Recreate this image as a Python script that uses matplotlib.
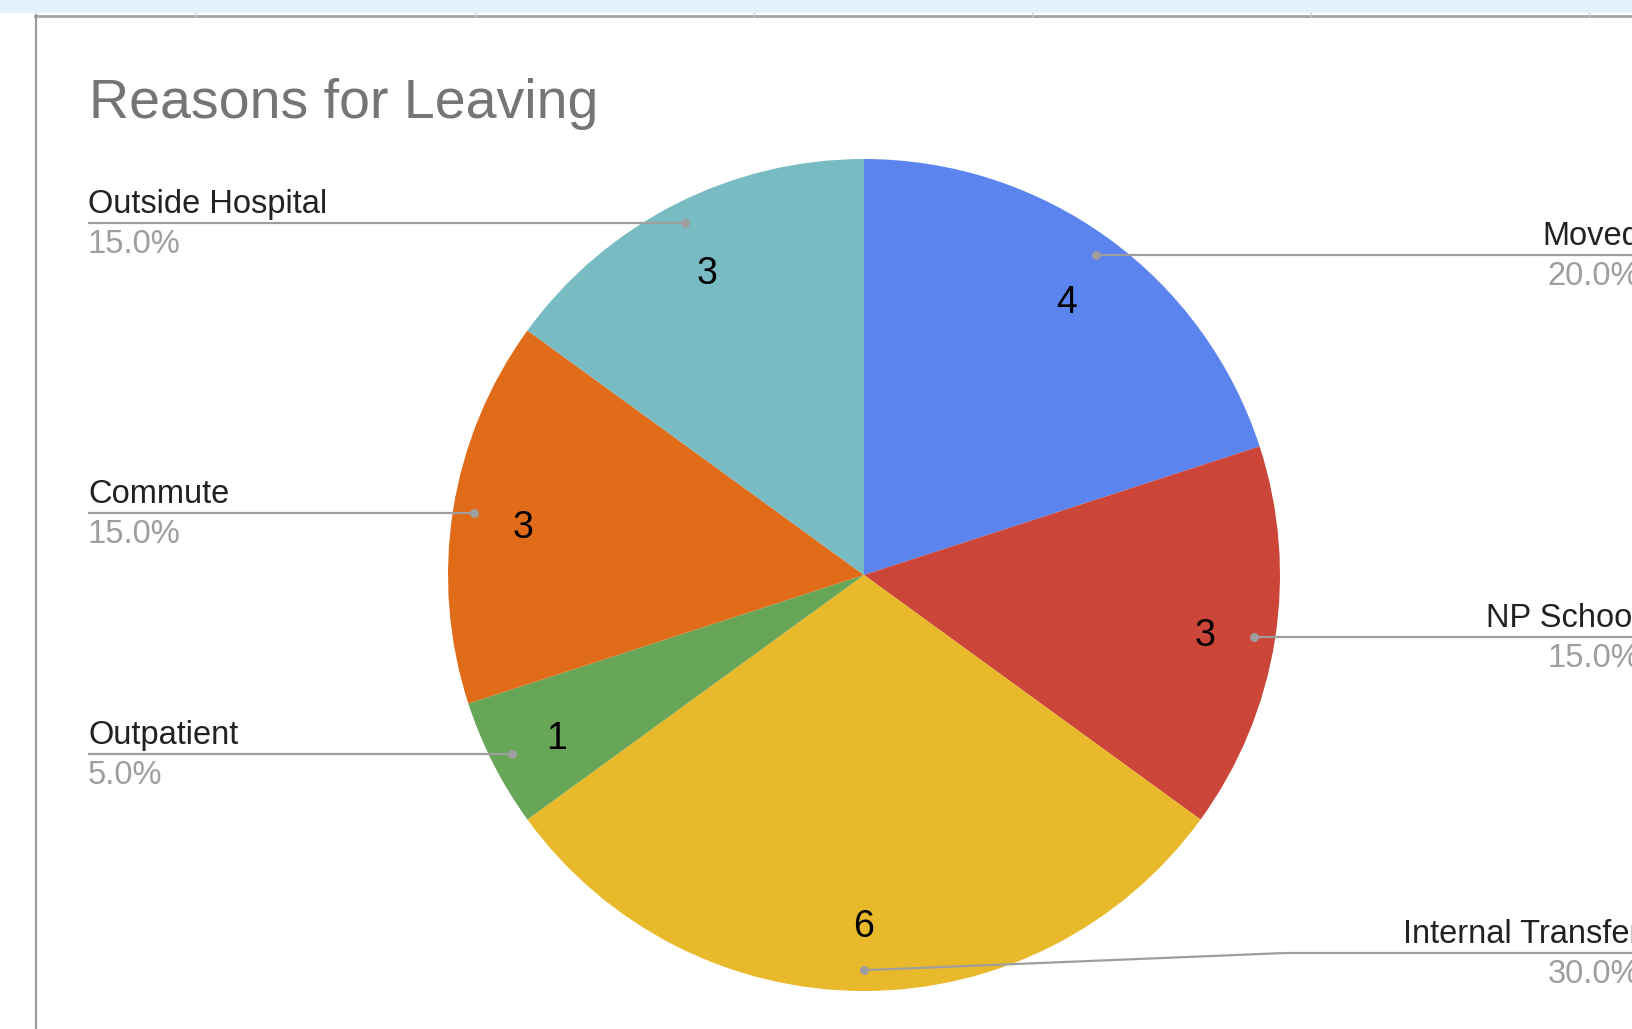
import numpy as np
import matplotlib.pyplot as plt
from matplotlib.patches import Rectangle

plt.rcParams['font.family'] = ['Liberation Sans', 'DejaVu Sans']

# Reasons for leaving (counts), clockwise from 12 o'clock
reasons = ["Moved", "NP School", "Internal Transfer", "Outpatient", "Commute", "Outside Hospital"]
counts = [4, 3, 6, 1, 3, 3]
colors = ["#5b84ef", "#cb4538", "#e9b92c", "#67a557", "#e06c19", "#79bbc3"]

# canvas in pixels, y measured upward
W, H = 1632, 1029
fig = plt.figure(figsize=(W / 100, H / 100), dpi=100)
ax = fig.add_axes([0, 0, 1, 1])

cx, cy, r = 864, H - 575, 416
total = sum(counts)
wedges, _, autotexts = ax.pie(
    counts, colors=colors, startangle=90, counterclock=False,
    center=(cx, cy), radius=r,
    autopct=lambda p: f"{p * total / 100:.0f}", pctdistance=0.83,
    textprops=dict(fontsize=27, color="black"),
    wedgeprops=dict(linewidth=0), frame=True)
for t in autotexts:
    x, y = t.get_position()
    t.set_position((x, y - 7))

# leader lines + outside labels
line_col = "#9e9e9e"
for w, name, c in zip(wedges, reasons, counts):
    th = np.deg2rad((w.theta1 + w.theta2) / 2)
    dx, dy = np.cos(th), np.sin(th)
    px, py = cx + 0.95 * r * dx, cy + 0.95 * r * dy
    ly = max(py, H - 953)  # keep labels clear of the bottom edge
    if dx < -0.01:
        tx, ha = 88, "left"
        xs = [px, tx]
        ys = [py, ly]
    else:
        tx, ha = 1640, "right"
        knee = 1285 if ly != py else px
        xs = [px, knee, W + 10]
        ys = [py, ly, ly]
    ax.plot(xs, ys, color=line_col, lw=1.6, zorder=3, solid_capstyle="butt")
    ax.plot(px, py, "o", color=line_col, ms=6.5, mec="none", zorder=4)
    ax.text(tx, ly + 10, name, fontsize=23.5, color="#222222", ha=ha, va="baseline")
    ax.text(tx, ly - 30, f"{c / total * 100:.1f}%", fontsize=23.5, color="#9e9e9e",
            ha=ha, va="baseline")

ax.text(89, H - 118, "Reasons for Leaving", fontsize=40, color="#757575", va="baseline")

# sheet frame around the chart
ax.add_patch(Rectangle((0, H - 13), W, 13, color="#e3f2fb", lw=0))
ax.plot([35, W], [H - 16, H - 16], color="#a3a3a3", lw=2)
ax.plot([36, 36], [0, H - 15], color="#9a9a9a", lw=1.6)
for x in [196, 475, 754, 1032, 1311, 1589]:
    ax.plot([x, x], [H - 13, H - 16], color="#cccccc", lw=1)

ax.set_xlim(0, W)
ax.set_ylim(0, H)
ax.set_aspect("auto")
ax.axis("off")

fig.savefig("out.png", dpi=100)
